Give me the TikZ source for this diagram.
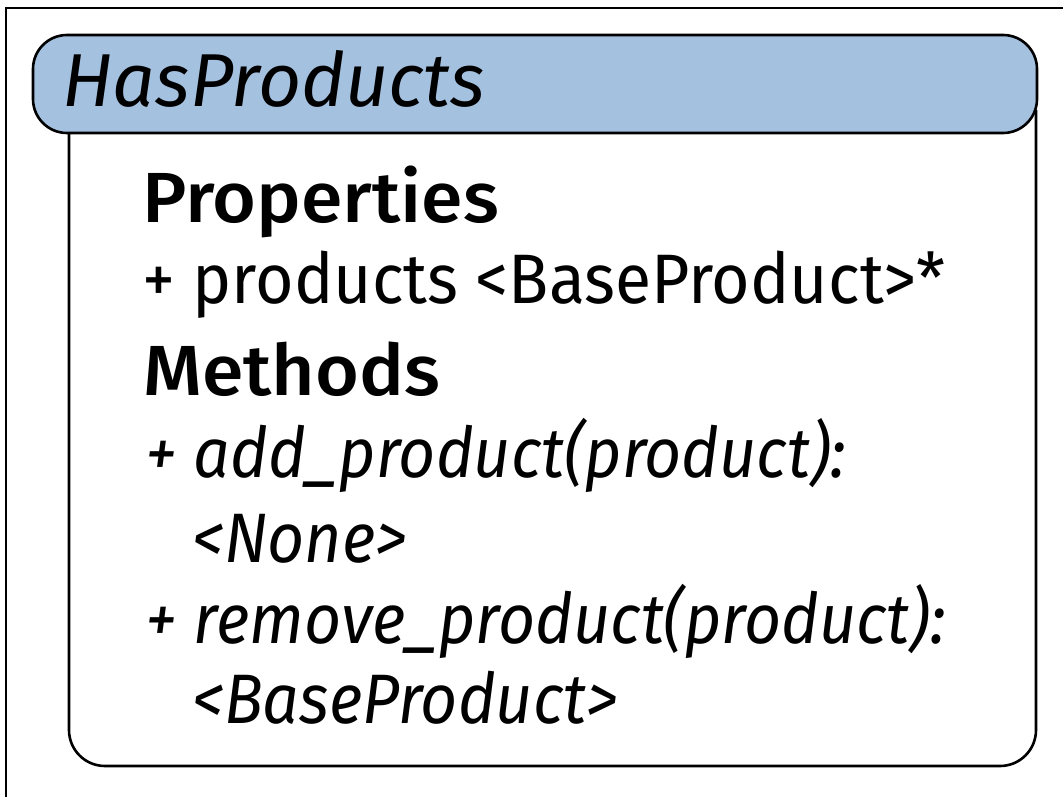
\documentclass[tikz,border=0pt]{standalone}
\usepackage{fontspec}
\setmainfont{Fira Sans}[BoldFont={Fira Sans Medium}]
\definecolor{titleblue}{RGB}{165,193,224}
\begin{document}
\begin{tikzpicture}[x=1pt,y=-1pt,
  boxline/.style={draw=black,line width=2.6pt},
  txt/.style={anchor=base west,inner sep=0pt,font=\fontsize{70}{84}\selectfont,xscale=0.944},
  head/.style={anchor=base west,inner sep=0pt,font=\fontsize{71}{84}\selectfont\bfseries,xscale=1.06},
  meth/.style={anchor=base west,inner sep=0pt,font=\fontsize{70}{84}\selectfont\itshape,xscale=0.92},
  ttl/.style={anchor=base west,inner sep=0pt,font=\fontsize{75}{90}\selectfont\itshape}]
\useasboundingbox (0,0) rectangle (1063,797);
\clip (0,0) rectangle (1063,797);
% outer frame
\draw[line width=2.4pt] (6,8) rectangle (1080,820);
% body
\draw[boxline,rounded corners=36pt] (69,110) -- (69,766) -- (1036,766) [rounded corners=0pt] -- (1036,110);
% title
\draw[boxline,fill=titleblue,rounded corners=34pt] (33,35) rectangle (1037,133);
\node[ttl] (title) at (62,107) {HasProducts};
\node[head] (props) at (142,222) {Properties};
\node[txt] (prod) at (142,303) {+ products <BaseProduct>*};
\node[head] (meths) at (143,395) {Methods};
\node[meth] (m1) at (145,477) {+ add\_product(product):};
\node[meth] (m1r) at (192,562) {<None>};
\node[meth] (m2) at (145,643) {+ remove\_product(product):};
\node[meth] (m2r) at (192,723) {<BaseProduct>};
\end{tikzpicture}
\end{document}
